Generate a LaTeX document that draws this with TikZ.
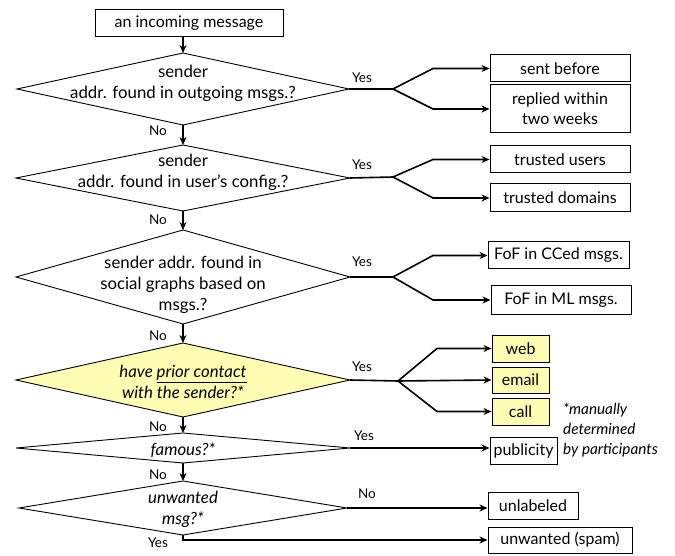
\documentclass[tikz,border=0pt]{standalone}
\usepackage{fontspec}
\setmainfont{Lato}
\usetikzlibrary{arrows.meta,calc}
\definecolor{ylw}{RGB}{255,253,180}
\tikzset{
  box/.style={draw, line width=1pt, inner sep=0pt, font=\fontsize{16}{20}\selectfont, align=center},
  dtext/.style={inner sep=0pt, font=\fontsize{16.8}{21}\selectfont, align=center},
  dline/.style={line width=0.9pt},
  arr/.style={line width=1.6pt, -{Stealth[length=8pt,width=7pt]}},
  conn/.style={line width=1.6pt},
  lbl/.style={inner sep=0pt, font=\fontsize{13.5}{15}\selectfont},
}
\newcommand{\mydia}[6]{% name, cx, cy, hw, hh, fill
  \coordinate (#1) at (#2,#3);
  \coordinate (#1n) at (#2,#3-#5);
  \coordinate (#1s) at (#2,#3+#5);
  \coordinate (#1w) at (#2-#4,#3);
  \coordinate (#1e) at (#2+#4,#3);
  \draw[dline, fill=#6] (#1n) -- (#1e) -- (#1s) -- (#1w) -- cycle;
}
\begin{document}
\begin{tikzpicture}[x=1pt,y=-1pt]
\useasboundingbox (0,0) rectangle (675,556);
% start box
\node[box, minimum width=188pt, minimum height=27pt] (start) at (189,23.5) {an incoming message};
% diamonds
\mydia{d1}{183}{89}{166}{36}{white}
\mydia{d2}{183}{178}{167}{33}{white}
\mydia{d3}{183}{277}{167}{47}{white}
\mydia{d4}{183}{380}{167}{37}{ylw}
\mydia{d5}{183}{448}{167}{15}{white}
\mydia{d6}{183}{508}{164}{27}{white}
\node[dtext] (t1) at (183,83) {sender\\addr. found in outgoing msgs.?};
\node[dtext] (t2) at (183,172) {sender\\addr. found in user's config.?};
\node[dtext] (t3) at (183,285) {sender addr. found in\\social graphs based on\\msgs.?};
\node[dtext] (t4) at (183,382) {\itshape have \underline{prior contact}\\\itshape with the sender?*};
\node[dtext] (t5) at (183,450) {\itshape famous?*};
\node[dtext] (t6) at (183,509) {\itshape unwanted\\\itshape msg?*};
% result boxes
\node[box, minimum width=140pt, minimum height=27pt] (sent) at (560,68.5) {sent before};
\node[box, minimum width=140pt, minimum height=48pt] (replied) at (560,109) {replied within\\two weeks};
\node[box, minimum width=140pt, minimum height=27pt] (tusers) at (560,159.5) {trusted users};
\node[box, minimum width=140pt, minimum height=28pt] (tdom) at (560,198) {trusted domains};
\node[box, minimum width=141pt, minimum height=27pt] (fofcc) at (558.5,255.5) {FoF in CCed msgs.};
\node[box, minimum width=140pt, minimum height=28pt] (fofml) at (561,300) {FoF in ML msgs.};
\node[box, fill=ylw, minimum width=57pt, minimum height=27pt] (web) at (520.5,348.5) {web};
\node[box, fill=ylw, minimum width=57pt, minimum height=26pt] (email) at (520.5,380) {email};
\node[box, fill=ylw, minimum width=57pt, minimum height=27pt] (call) at (520.5,411.5) {call};
\node[box, minimum width=67pt, minimum height=27pt] (pub) at (523.5,450.5) {publicity};
\node[box, minimum width=90pt, minimum height=27pt] (unl) at (533,505.5) {unlabeled};
\node[box, minimum width=144pt, minimum height=26pt] (spam) at (560,540) {unwanted (spam)};
% note
\node[inner sep=0pt, anchor=north west, align=left, font=\fontsize{15.3}{20}\selectfont\itshape] (note) at (563,403) {*manually\\determined\\by participants};
% vertical No arrows
\draw[arr] (d1n |- start.south) -- (d1n);
\draw[arr] (d1s) -- (d2n);
\draw[arr] (d2s) -- (d3n);
\draw[arr] (d3s) -- (d4n);
\draw[arr] (d4s) -- (d5n);
\draw[arr] (d5s) -- (d6n);
\node[lbl] (no1) at (158,131) {No};
\node[lbl] (no2) at (158,220) {No};
\node[lbl] (no3) at (158,336) {No};
\node[lbl] (no4) at (158,427) {No};
\node[lbl] (no5) at (158,475) {No};
% branch coordinates
\coordinate (b1) at (393,89);
\coordinate (b2) at (393,177);
\coordinate (b3) at (393,277);
\coordinate (b4) at (398,381);
\coordinate (k1) at (433,0);
\coordinate (k4) at (437,0);
% diamond 1 yes
\draw[conn] (d1e) -- (b1);
\draw[arr] (b1) -- (k1 |- sent.west) -- (sent.west);
\draw[arr] (b1) -- (k1 |- replied.west) -- (replied.west);
\node[lbl] (y1) at (362,78) {Yes};
% diamond 2 yes
\draw[conn] (d2e) -- (b2);
\draw[arr] (b2) -- (k1 |- tusers.west) -- (tusers.west);
\draw[arr] (b2) -- (k1 |- tdom.west) -- (tdom.west);
\node[lbl] (y2) at (362,165) {Yes};
% diamond 3 yes
\draw[conn] (d3e) -- (b3);
\draw[arr] (b3) -- (k1 |- fofcc.west) -- (fofcc.west);
\draw[arr] (b3) -- (k1 |- fofml.west) -- (fofml.west);
\node[lbl] (y3) at (362,262) {Yes};
% diamond 4 yes
\draw[conn] (d4e) -- (b4);
\draw[arr] (b4) -- (k4 |- web.west) -- (web.west);
\draw[arr] (b4) -- (email.west);
\draw[arr] (b4) -- (k4 |- call.west) -- (call.west);
\node[lbl] (y4) at (362,367) {Yes};
% diamond 5 yes
\draw[arr] (d5e) -- (d5e -| pub.west);
\node[lbl] (y5) at (364,436) {Yes};
% diamond 6
\draw[arr] (d6e) -- (d6e -| unl.west);
\node[lbl] (n6) at (367,494) {No};
\draw[arr] (d6s) |- (spam.west);
\node[lbl] (y6) at (158,543) {Yes};
\end{tikzpicture}
\end{document}
